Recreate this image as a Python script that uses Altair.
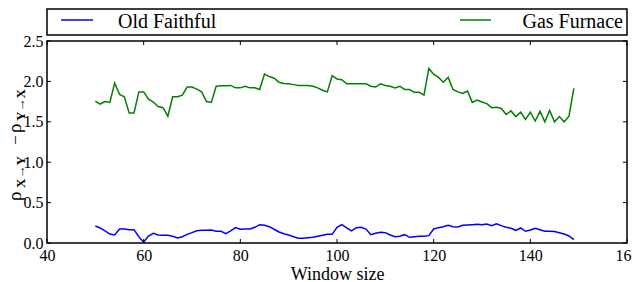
import altair as alt
import pandas as pd

windows = list(range(50, 150))
old_faithful = [
    0.21, 0.186, 0.149, 0.11, 0.10, 0.173, 0.173, 0.165, 0.165, 0.078,
    0.01, 0.087, 0.12, 0.099, 0.095, 0.095, 0.083, 0.062, 0.078, 0.107,
    0.128, 0.152, 0.157, 0.157, 0.161, 0.145, 0.145, 0.115, 0.149, 0.19,
    0.17, 0.173, 0.173, 0.194, 0.227, 0.219, 0.202, 0.17, 0.136, 0.115,
    0.099, 0.078, 0.058, 0.058, 0.066, 0.07, 0.083, 0.095, 0.107, 0.107,
    0.194, 0.227, 0.186, 0.149, 0.19, 0.194, 0.173, 0.103, 0.12, 0.132,
    0.128, 0.099, 0.078, 0.083, 0.103, 0.07, 0.078, 0.083, 0.083, 0.091,
    0.173, 0.19, 0.202, 0.219, 0.202, 0.198, 0.219, 0.223, 0.227, 0.231,
    0.227, 0.235, 0.215, 0.239, 0.215, 0.194, 0.182, 0.157, 0.186, 0.145,
    0.161, 0.182, 0.165, 0.145, 0.145, 0.141, 0.128, 0.111, 0.087, 0.041,
]
gas_furnace = [
    1.757, 1.72, 1.75, 1.74, 1.98, 1.84, 1.81, 1.61, 1.61, 1.87,
    1.87, 1.78, 1.745, 1.69, 1.675, 1.57, 1.81, 1.81, 1.83, 1.93,
    1.93, 1.905, 1.87, 1.75, 1.74, 1.94, 1.945, 1.945, 1.95, 1.92,
    1.92, 1.94, 1.92, 1.92, 1.90, 2.09, 2.06, 2.04, 1.99, 1.975,
    1.97, 1.96, 1.95, 1.95, 1.95, 1.94, 1.92, 1.89, 1.87, 2.07,
    2.03, 2.02, 1.97, 1.97, 1.97, 1.97, 1.97, 1.94, 1.93, 1.97,
    1.95, 1.94, 1.92, 1.94, 1.90, 1.90, 1.865, 1.865, 1.83, 2.16,
    2.09, 2.05, 1.99, 2.05, 1.90, 1.87, 1.85, 1.88, 1.74, 1.77,
    1.745, 1.725, 1.675, 1.68, 1.665, 1.59, 1.635, 1.565, 1.62, 1.53,
    1.62, 1.51, 1.63, 1.50, 1.64, 1.50, 1.565, 1.50, 1.57, 1.915,
]
series_names = ["Old Faithful", "Gas Furnace"]
series_colors = ["#0000ff", "#008000"]
x_ticks = [40, 60, 80, 100, 120, 140, 160]
y_ticks = [0.0, 0.5, 1.0, 1.5, 2.0, 2.5]
x_title = "Window size"
y_title_parts = ["ρ", "X→Y", "−", "ρ", "Y→X"]

df = pd.DataFrame({
    "window": windows * 2,
    "value": old_faithful + gas_furnace,
    "series": [series_names[0]] * len(windows) + [series_names[1]] * len(windows),
})

W, H = 580, 202
FONT = "Liberation Serif, DejaVu Serif, serif"
one = pd.DataFrame({"k": [0]})

xs = alt.Scale(domain=[40, 160], nice=False, zero=False)
ys = alt.Scale(domain=[0, 2.5], nice=False)

ax_x = alt.Axis(
    values=x_ticks, title=x_title, format="d", ticks=False, grid=False,
    domain=False, labelFlush=False, labelOverlap=False, labelPadding=4,
    labelFont=FONT, labelFontSize=16, labelColor="black",
    titleFont=FONT, titleFontSize=18, titleFontWeight="normal",
    titleColor="black", titlePadding=2)
ax_y = alt.Axis(
    values=y_ticks, title=None, format=".1f", ticks=False, grid=False,
    domain=False, labelFlush=False, labelOverlap=False, labelPadding=4,
    labelFont=FONT, labelFontSize=16, labelColor="black")

lines = alt.Chart(df).mark_line(strokeWidth=1.5, clip=True).encode(
    x=alt.X("window:Q", scale=xs, axis=ax_x),
    y=alt.Y("value:Q", scale=ys, axis=ax_y),
    color=alt.Color("series:N", scale=alt.Scale(domain=series_names, range=series_colors), legend=None),
)

xt = pd.DataFrame({"window": x_ticks})
yt = pd.DataFrame({"value": y_ticks})
tick_layers = [
    alt.Chart(xt).mark_rule(color="black", strokeWidth=1).encode(
        x=alt.X("window:Q", scale=xs, axis=ax_x), y=alt.value(H), y2=alt.value(H - 4)),
    alt.Chart(xt).mark_rule(color="black", strokeWidth=1).encode(
        x=alt.X("window:Q", scale=xs, axis=ax_x), y=alt.value(0), y2=alt.value(4)),
    alt.Chart(yt).mark_rule(color="black", strokeWidth=1).encode(
        y=alt.Y("value:Q", scale=ys, axis=ax_y), x=alt.value(0), x2=alt.value(4)),
    alt.Chart(yt).mark_rule(color="black", strokeWidth=1).encode(
        y=alt.Y("value:Q", scale=ys, axis=ax_y), x=alt.value(W - 4), x2=alt.value(W)),
]

legend_box = alt.Chart(one).mark_rect(fill="white", stroke="black", strokeWidth=1.5).encode(
    x=alt.value(0), x2=alt.value(W), y=alt.value(-32), y2=alt.value(-6))
leg_line1 = alt.Chart(one).mark_rule(color=series_colors[0], strokeWidth=1.5).encode(
    x=alt.value(14), x2=alt.value(46), y=alt.value(-21))
leg_line2 = alt.Chart(one).mark_rule(color=series_colors[1], strokeWidth=1.5).encode(
    x=alt.value(413), x2=alt.value(444), y=alt.value(-21))
leg_text1 = alt.Chart(one).mark_text(font=FONT, fontSize=20, align="left", baseline="alphabetic", color="black").encode(
    x=alt.value(71), y=alt.value(-13), text=alt.value(series_names[0]))
leg_text2 = alt.Chart(one).mark_text(font=FONT, fontSize=20, align="right", baseline="alphabetic", color="black").encode(
    x=alt.value(576), y=alt.value(-13), text=alt.value(series_names[1]))

def ytext(txt, x, y, size, bold=False):
    return alt.Chart(one).mark_text(font=FONT, fontSize=size, fontWeight="bold" if bold else "normal",
                                    align="left", baseline="alphabetic", angle=270, color="black").encode(
        x=alt.value(x), y=alt.value(y), text=alt.value(txt))

ytitle = [
    ytext(y_title_parts[0], -26, 160, 19),
    ytext(y_title_parts[1], -22, 147, 13, True),
    ytext(y_title_parts[2], -26, 104, 17),
    ytext(y_title_parts[3], -26, 92, 19),
    ytext(y_title_parts[4], -22, 80, 13, True),
]

chart = alt.layer(
    lines, *tick_layers, legend_box, leg_line1, leg_line2, leg_text1, leg_text2, *ytitle
).properties(
    width=W, height=H,
    autosize=alt.AutoSizeParams(type="none"),
    padding={"left": 39, "top": 33, "right": 5, "bottom": 39},
).configure_view(stroke="black", strokeWidth=1.5)

chart.save("out.html", embed_options={"renderer": "svg", "actions": False})
